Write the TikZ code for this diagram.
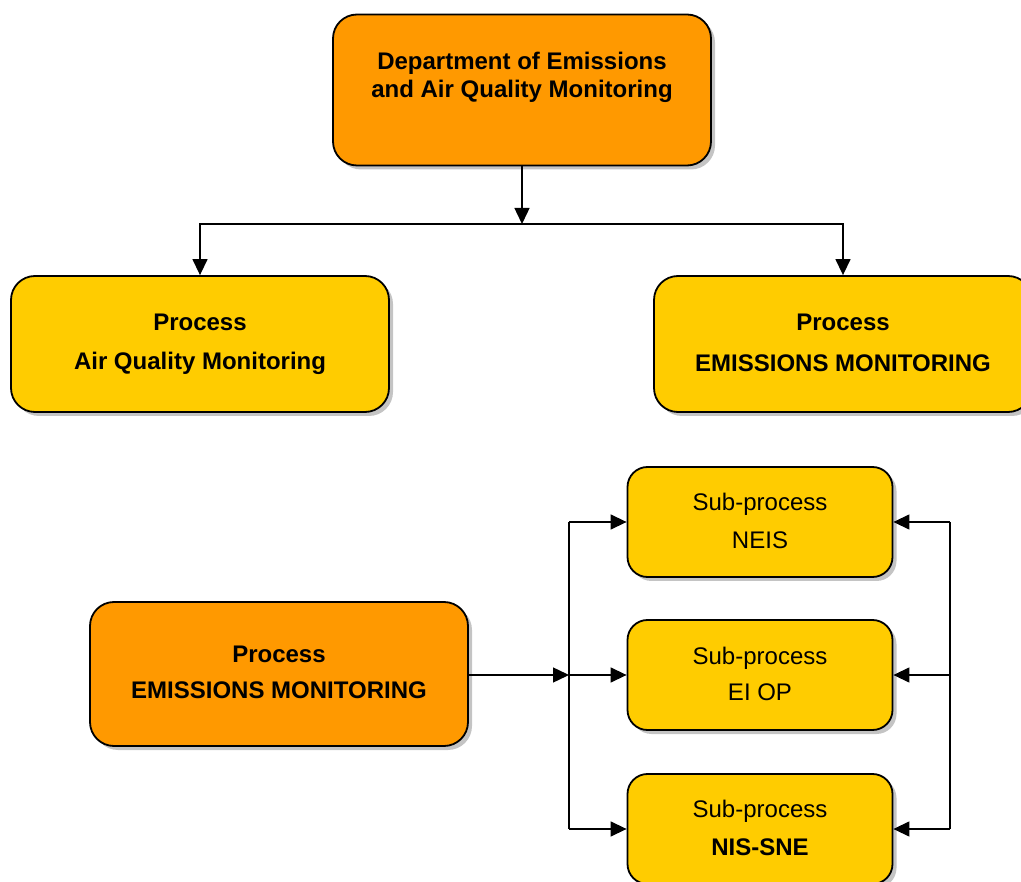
\documentclass[tikz,border=0pt]{standalone}
\usepackage{fontspec}
\setmainfont{Liberation Sans}
\usetikzlibrary{arrows.meta,shadows,calc}

\definecolor{deptorange}{HTML}{FF9900}
\definecolor{procyellow}{HTML}{FFCC00}
\definecolor{shadowgray}{HTML}{C4C4C4}

\tikzset{
  box/.style={draw=black, line width=1.8pt, rounded corners=24pt, inner sep=0pt,
    drop shadow={shadow xshift=4pt, shadow yshift=-4pt, fill=shadowgray, opacity=1}},
  orangebox/.style={box, fill=deptorange},
  yellowbox/.style={box, fill=procyellow},
  subbox/.style={box, fill=procyellow, rounded corners=20pt,
    minimum width=265pt, minimum height=110pt},
  bigtext/.style={font=\fontsize{24pt}{28pt}\selectfont\bfseries, align=center, inner sep=0pt},
  smalltext/.style={font=\fontsize{24pt}{28pt}\selectfont, inner sep=0pt},
  link/.style={line width=1.4pt, draw=black},
  arrowlink/.style={link, -{Triangle[length=16pt,width=15pt]}},
}

\begin{document}
\begin{tikzpicture}[x=1pt, y=-1pt]
  \useasboundingbox (0,0) rectangle (1021,882);
  \clip (0,0) rectangle (1021,882);

  % department box
  \node[orangebox, minimum width=378pt, minimum height=151pt] (dept) at (522,90) {};
  \node[bigtext] (deptlabel) at (522,77) {Department of Emissions\\and Air Quality Monitoring};

  % the two processes
  \node[yellowbox, minimum width=378pt, minimum height=136pt] (aqm) at (200,344) {};
  \node[bigtext] (aqmA) at (200,322) {Process};
  \node[bigtext] (aqmB) at (200,363) {Air Quality Monitoring};

  \node[yellowbox, minimum width=378pt, minimum height=136pt] (em) at (843,344) {};
  \node[bigtext] (emA) at (843,322) {Process};
  \node[bigtext] (emB) at (843,363) {EMISSIONS MONITORING};

  % branching below the department
  \coordinate (split) at (522,224);
  \draw[arrowlink] (dept.south) -- (split);
  \draw[arrowlink] (split) -| (aqm.north);
  \draw[arrowlink] (split) -| (em.north);

  % emissions monitoring detail
  \node[orangebox, minimum width=378pt, minimum height=144pt] (emd) at (279,674) {};
  \node[bigtext] (emdA) at (279,654) {Process};
  \node[bigtext] (emdB) at (279,690) {EMISSIONS MONITORING};

  \node[subbox] (neis) at (760,522) {};
  \node[smalltext] (neisA) at (760,504) {Sub-process};
  \node[smalltext] (neisB) at (760,540) {NEIS};

  \node[subbox] (eiop) at (760,675) {};
  \node[smalltext] (eiopA) at (760,658) {Sub-process};
  \node[smalltext] (eiopB) at (760,692) {EI OP};

  \node[subbox] (nis) at (760,829) {};
  \node[smalltext] (nisA) at (760,811) {Sub-process};
  \node[smalltext, font=\fontsize{24pt}{28pt}\selectfont\bfseries] (nisB) at (760,847) {NIS-SNE};

  % left bus
  \coordinate (lbus) at (569,675);
  \coordinate (ltop) at (569,522);
  \coordinate (lbot) at (569,829);
  \draw[arrowlink] (emd.east |- lbus) -- (lbus);
  \draw[link] (ltop) -- (lbot);
  \draw[arrowlink] (ltop) -- (neis.west);
  \draw[arrowlink] (lbus) -- (eiop.west);
  \draw[arrowlink] (lbot) -- (nis.west);

  % right bus
  \coordinate (rtop) at (950,522);
  \coordinate (rmid) at (950,675);
  \coordinate (rbot) at (950,829);
  \draw[link] (rtop) -- (rbot);
  \draw[arrowlink] (rtop) -- (neis.east);
  \draw[arrowlink] (rmid) -- (eiop.east);
  \draw[arrowlink] (rbot) -- (nis.east);
\end{tikzpicture}
\end{document}
